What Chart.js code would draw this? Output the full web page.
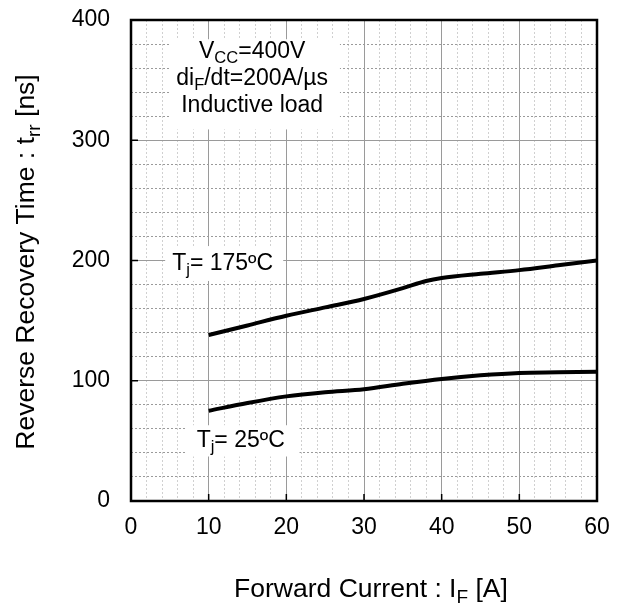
<!DOCTYPE html>
<html>
<head>
<meta charset="utf-8">
<script src="https://cdn.jsdelivr.net/npm/chart.js@4"></script>
<style>
  html, body { margin: 0; padding: 0; background: #fff; }
  #wrap { width: 618px; height: 609px; }
</style>
</head>
<body>
<div id="wrap"><canvas id="trrChart" width="618" height="609"></canvas></div>
<script>
// forward current I_F [A]
const currents = [10, 15, 20, 25, 30, 35, 38, 40, 45, 50, 55, 60];
// trr [ns] at Tj = 175 C
const trr175 = [138, 146, 154, 161, 168, 177, 183, 185.5, 189, 192, 196, 200];
// trr [ns] at Tj = 25 C
const currents25 = [10, 15, 20, 25, 30, 35, 40, 45, 50, 55, 60];
const trr25 = [75, 81.5, 87, 90.5, 93, 97.5, 101.5, 104.5, 106.5, 107, 107.5];

const xTicks = [0, 10, 20, 30, 40, 50, 60];
const yTicks = [0, 100, 200, 300, 400];

const FONT = '"Liberation Sans", Arial, sans-serif';
const FS = 23;
const TITLE_FS = 26.5;

// text with a subscript, pieces: [text, isSub]
function drawRich(ctx, pieces, x, y, size, align) {
    const subSize = size * 0.72;
    let w = 0;
    pieces.forEach(p => {
        ctx.font = (p[1] ? subSize : size) + 'px ' + FONT;
        w += ctx.measureText(p[0]).width;
    });
    let cx = align === 'center' ? x - w / 2 : x;
    ctx.textBaseline = 'middle';
    ctx.textAlign = 'left';
    pieces.forEach(p => {
        ctx.font = (p[1] ? subSize : size) + 'px ' + FONT;
        ctx.fillText(p[0], cx, p[1] ? y + size * 0.3 : y);
        cx += ctx.measureText(p[0]).width;
    });
    return w;
}

function whiteBox(ctx, x, y, x0, x1, y0, y1) {
    const l = x.getPixelForValue(x0), r = x.getPixelForValue(x1);
    const t = y.getPixelForValue(y1), b = y.getPixelForValue(y0);
    ctx.fillRect(l, t, r - l, b - t);
}

const decorPlugin = {
    id: 'decor',
    beforeDatasetsDraw(chart) {
        const {ctx, scales: {x, y}} = chart;
        ctx.save();
        ctx.fillStyle = '#fff';
        whiteBox(ctx, x, y, 5.0, 26.9, 309, 384);
        whiteBox(ctx, x, y, 4.4, 19.6, 183, 212);
        whiteBox(ctx, x, y, 7.0, 21.7, 37, 63);
        ctx.fillStyle = '#000';
        const cx = x.getPixelForValue(15.6);
        drawRich(ctx, [['V', 0], ['CC', 1], ['=400V', 0]], cx, y.getPixelForValue(374), FS, 'center');
        drawRich(ctx, [['di', 0], ['F', 1], ['/dt=200A/\u00b5s', 0]], cx, y.getPixelForValue(351), FS, 'center');
        drawRich(ctx, [['Inductive load', 0]], cx, y.getPixelForValue(329), FS, 'center');
        drawRich(ctx, [['T', 0], ['j', 1], ['= 175\u00baC', 0]], x.getPixelForValue(5.3), y.getPixelForValue(197.5), FS, 'left');
        drawRich(ctx, [['T', 0], ['j', 1], ['= 25\u00baC', 0]], x.getPixelForValue(8.45), y.getPixelForValue(50.5), FS, 'left');
        ctx.restore();
    },
    afterDraw(chart) {
        const {ctx, chartArea: a, scales: {x, y}} = chart;
        ctx.save();
        // inner major ticks
        ctx.strokeStyle = '#000';
        ctx.lineWidth = 1.5;
        ctx.beginPath();
        yTicks.forEach(v => {
            const py = y.getPixelForValue(v);
            ctx.moveTo(a.left, py); ctx.lineTo(a.left + 7, py);
        });
        xTicks.forEach(v => {
            const px = x.getPixelForValue(v);
            ctx.moveTo(px, a.bottom); ctx.lineTo(px, a.bottom - 7);
        });
        ctx.stroke();
        // frame
        ctx.lineWidth = 2.5;
        ctx.strokeRect(a.left, a.top, a.right - a.left, a.bottom - a.top);
        // axis titles
        ctx.fillStyle = '#000';
        drawRich(ctx, [['Forward Current : I', 0], ['F', 1], [' [A]', 0]], 371, 590, TITLE_FS, 'center');
        ctx.translate(27, 262);
        ctx.rotate(-Math.PI / 2);
        drawRich(ctx, [['Reverse Recovery Time : t', 0], ['rr', 1], [' [ns]', 0]], 0, 0, TITLE_FS, 'center');
        ctx.restore();
    }
};

function gridColor(c) {
    return c.tick && c.tick.value % 10 === 0 ? '#9a9a9a' : '#d0d0d0';
}

new Chart(document.getElementById('trrChart').getContext('2d'), {
    type: 'line',
    data: {
        datasets: [{
            label: 'Tj = 175C',
            data: currents.map((c, i) => ({x: c, y: trr175[i]})),
            borderColor: '#000',
            borderWidth: 4,
            pointRadius: 0,
            cubicInterpolationMode: 'monotone',
            fill: false
        }, {
            label: 'Tj = 25C',
            data: currents25.map((c, i) => ({x: c, y: trr25[i]})),
            borderColor: '#000',
            borderWidth: 4,
            pointRadius: 0,
            cubicInterpolationMode: 'monotone',
            fill: false
        }]
    },
    options: {
        responsive: false,
        animation: false,
        layout: { padding: { top: 20, right: 21, left: 0, bottom: 0 } },
        plugins: { legend: { display: false }, tooltip: { enabled: false } },
        scales: {
            x: {
                type: 'linear',
                min: 0, max: 60,
                afterFit(s) { s.height = 108; s.paddingLeft = 0; s.paddingRight = 0; },
                ticks: {
                    stepSize: 2,
                    autoSkip: false,
                    maxRotation: 0,
                    padding: 13,
                    color: '#000',
                    font: { family: FONT, size: FS },
                    callback: v => (v % 10 === 0 ? v : '')
                },
                grid: { color: gridColor, lineWidth: 1, drawTicks: false },
                border: { display: false, dash: c => (c.tick && c.tick.value % 10 !== 0 ? [2, 2] : []) }
            },
            y: {
                min: 0, max: 400,
                afterFit(s) { s.width = 131; s.paddingTop = 0; s.paddingBottom = 0; },
                ticks: {
                    stepSize: 20,
                    autoSkip: false,
                    padding: 21,
                    color: '#000',
                    font: { family: FONT, size: FS },
                    callback: v => (v % 100 === 0 ? v : '')
                },
                grid: { color: gridColor, lineWidth: 1, drawTicks: false },
                border: { display: false, dash: c => (c.tick && c.tick.value % 100 !== 0 ? [2, 2] : []) }
            }
        }
    },
    plugins: [decorPlugin]
});
</script>
</body>
</html>
